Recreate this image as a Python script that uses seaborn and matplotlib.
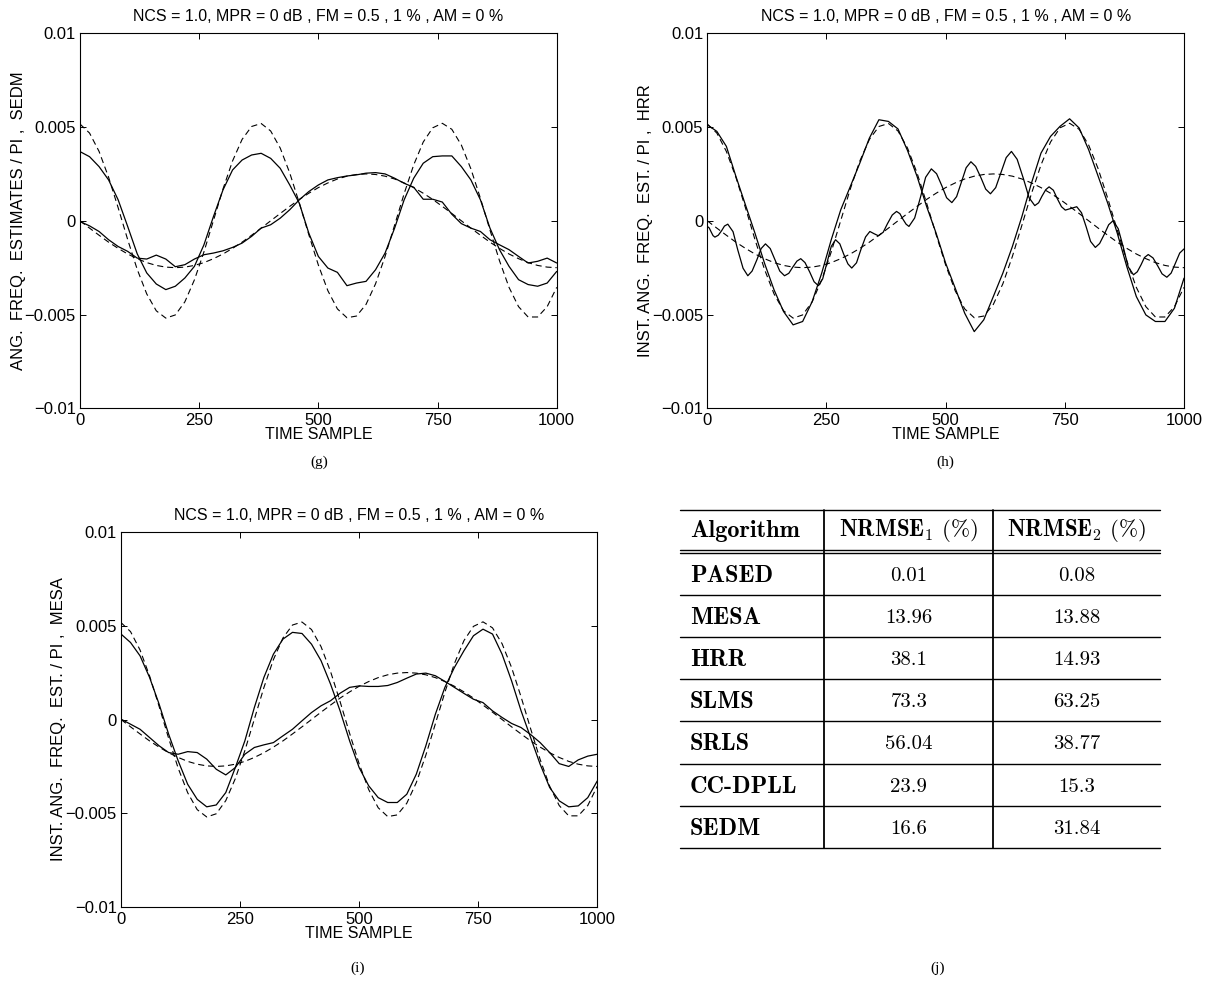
import numpy as np
import matplotlib
matplotlib.use("Agg")
import matplotlib.pyplot as plt
import seaborn as sns

# ---------------------------------------------------------------------------
# Data (frequency values in units of 1e-3, i.e. x 0.001 of normalised freq/pi)
# ---------------------------------------------------------------------------
T = list(range(0, 1001, 20))          # sample index of the uniformly read series

# true instantaneous frequency of the two components (dashed)
REF_FAST = [5.16, 4.68, 3.70, 2.32, 0.70, -1.00, -2.59, -3.90, -4.80, -5.19,
            -5.02, -4.32, -3.15, -1.66, 0.02, 1.70, 3.19, 4.34, 5.03, 5.19,
            4.79, 3.88, 2.55, 0.95, -0.74, -2.36, -3.73, -4.70, -5.17, -5.08,
            -4.46, -3.36, -1.90, -0.23, 1.45, 2.98, 4.20, 4.96, 5.20, 4.88,
            4.04, 2.77, 1.20, -0.49, -2.13, -3.55, -4.58, -5.13, -5.13, -4.58,
            -3.55]
REF_SLOW = [0.00, -0.39, -0.77, -1.14, -1.47, -1.77, -2.02, -2.23, -2.38, -2.47,
            -2.50, -2.47, -2.38, -2.23, -2.02, -1.77, -1.47, -1.14, -0.77, -0.39,
            0.00, 0.39, 0.77, 1.14, 1.47, 1.77, 2.02, 2.23, 2.38, 2.47,
            2.50, 2.47, 2.38, 2.23, 2.02, 1.77, 1.47, 1.14, 0.77, 0.39,
            0.00, -0.39, -0.77, -1.14, -1.47, -1.77, -2.02, -2.23, -2.38, -2.47,
            -2.50]

# SEDM estimates
SEDM_FAST = [3.69, 3.42, 2.89, 2.18, 1.12, -0.30, -1.76, -2.78, -3.37, -3.67,
             -3.49, -3.05, -2.43, -1.28, 0.23, 1.65, 2.71, 3.24, 3.51, 3.60,
             3.33, 2.80, 1.91, 0.94, -0.66, -1.90, -2.52, -2.75, -3.46, -3.32,
             -3.23, -2.61, -1.72, -0.39, 1.12, 2.27, 3.07, 3.42, 3.46, 3.46,
             2.89, 2.18, 1.12, -0.39, -1.54, -2.43, -3.14, -3.40, -3.49, -3.32,
             -2.70]
SEDM_SLOW = [-0.04, -0.27, -0.57, -1.01, -1.37, -1.63, -1.99, -2.04, -1.83, -2.04,
             -2.45, -2.34, -2.04, -1.81, -1.72, -1.60, -1.42, -1.19, -0.83, -0.39,
             -0.21, 0.14, 0.59, 1.12, 1.56, 1.91, 2.18, 2.30, 2.39, 2.45,
             2.54, 2.57, 2.50, 2.27, 2.00, 1.79, 1.15, 1.15, 1.00, 0.35,
             -0.15, -0.39, -0.57, -1.01, -1.28, -1.54, -1.90, -2.25, -2.16, -1.99,
             -2.25]

# HRR estimates
HRR_FAST = [5.12, 4.77, 3.97, 2.37, 0.85, -0.66, -2.26, -3.68, -4.84, -5.55,
            -5.37, -4.31, -2.79, -1.01, 0.59, 1.83, 3.08, 4.41, 5.39, 5.30,
            4.90, 3.75, 2.37, 0.77, -0.66, -2.26, -3.59, -4.93, -5.91, -5.28,
            -4.04, -2.79, -1.37, 0.23, 2.01, 3.61, 4.50, 5.04, 5.44, 4.95,
            3.79, 2.37, 0.94, -0.66, -2.44, -4.04, -5.02, -5.37, -5.37, -4.66,
            -3.06]
HRR_SLOW_T = [0, 4, 8, 12, 16, 23, 30, 36, 43, 54, 64, 75, 85, 94, 104, 113,
              122, 132, 142, 152, 162, 171, 179, 188, 196, 205, 215, 224,
              233, 242, 251, 260, 269, 278, 286, 295, 303, 313, 322, 332,
              341, 350, 359, 369, 378, 388, 397, 404, 410, 417, 423, 435,
              447, 458, 470, 481, 492, 502, 513, 523, 533, 543, 553, 563,
              574, 584, 594, 605, 616, 627, 638, 650, 663, 675, 687, 695,
              702, 710, 717, 726, 734, 743, 751, 763, 775, 785, 795, 804,
              814, 823, 833, 842, 851, 862, 873, 883, 894, 902, 910, 917,
              925, 935, 945, 954, 964, 973, 982, 991, 1000]
HRR_SLOW = [-0.30, -0.38, -0.59, -0.79, -0.87, -0.77, -0.53, -0.28, -0.18, -0.58,
            -1.56, -2.53, -2.93, -2.68, -2.08, -1.48, -1.23, -1.48, -2.08, -2.68,
            -2.93, -2.80, -2.48, -2.15, -2.02, -2.23, -2.74, -3.25, -3.46, -3.10,
            -2.24, -1.37, -1.01, -1.23, -1.77, -2.30, -2.52, -2.24, -1.55, -0.86,
            -0.57, -0.69, -0.80, -0.61, -0.15, 0.31, 0.50, 0.38, 0.10, -0.18,
            -0.30, 0.15, 1.24, 2.32, 2.77, 2.51, 1.87, 1.23, 0.97, 1.29,
            2.06, 2.83, 3.15, 2.90, 2.30, 1.69, 1.44, 1.77, 2.57, 3.37,
            3.70, 3.28, 2.26, 1.23, 0.81, 0.96, 1.31, 1.66, 1.81, 1.63,
            1.19, 0.75, 0.57, 0.66, 0.75, 0.43, -0.34, -1.10, -1.42, -1.21,
            -0.71, -0.21, 0.00, -0.42, -1.44, -2.46, -2.88, -2.72, -2.34, -1.96,
            -1.80, -1.98, -2.41, -2.83, -3.01, -2.79, -2.26, -1.72, -1.50]

# MESA estimates
MESA_FAST = [4.55, 4.10, 3.39, 2.24, 0.82, -0.78, -2.20, -3.45, -4.25, -4.65,
             -4.55, -3.89, -2.56, -1.14, 0.64, 2.24, 3.48, 4.28, 4.64, 4.58,
             4.01, 3.13, 1.88, 0.46, -1.14, -2.56, -3.53, -4.16, -4.42, -4.42,
             -3.98, -2.91, -1.40, 0.28, 1.71, 2.77, 3.66, 4.46, 4.81, 4.55,
             3.48, 2.06, 0.46, -0.96, -2.38, -3.62, -4.33, -4.65, -4.60, -4.16,
             -3.27]
MESA_SLOW = [0.02, -0.25, -0.52, -0.96, -1.40, -1.76, -1.85, -1.71, -1.76, -2.11,
             -2.65, -2.95, -2.56, -1.85, -1.49, -1.35, -1.23, -0.87, -0.52, -0.07,
             0.37, 0.73, 1.00, 1.40, 1.71, 1.79, 1.76, 1.76, 1.81, 1.97,
             2.20, 2.42, 2.47, 2.33, 2.03, 1.71, 1.39, 1.08, 0.90, 0.46,
             0.11, -0.21, -0.43, -0.80, -1.23, -1.76, -2.35, -2.50, -2.15, -1.95,
             -1.85]

SCALE = 1e-3

XTICKS = [0, 250, 500, 750, 1000]
XTICK_LABELS = ["0", "250", "500", "750", "1000"]
YTICKS = [-0.01, -0.005, 0.0, 0.005, 0.01]
YTICK_LABELS = ["\u22120.01", "\u22120.005", "0", "0.005", "0.01"]

TITLE = "NCS = 1.0, MPR = 0 dB , FM = 0.5 , 1 % , AM = 0 %"
XLABEL = "TIME SAMPLE"

# comparison table
ALGORITHMS = ["PASED", "MESA", "HRR", "SLMS", "SRLS", "CC-DPLL", "SEDM"]
NRMSE1 = ["0.01", "13.96", "38.1", "73.3", "56.04", "23.9", "16.6"]
NRMSE2 = ["0.08", "13.88", "14.93", "63.25", "38.77", "15.3", "31.84"]

# ---------------------------------------------------------------------------
sns.set_theme(style="ticks")
plt.rcParams["font.family"] = ["Liberation Sans", "DejaVu Sans"]
plt.rcParams["mathtext.fontset"] = "cm"
plt.rcParams["axes.unicode_minus"] = True
plt.rcParams["text.color"] = "black"
plt.rcParams["axes.labelcolor"] = "black"
plt.rcParams["xtick.color"] = "black"
plt.rcParams["ytick.color"] = "black"

W, H = 1205, 984
fig = plt.figure(figsize=(W / 100, H / 100), dpi=100)
fig.patch.set_facecolor("white")


def px_axes(left, top, right, bottom):
    return fig.add_axes([left / W, 1 - bottom / H, (right - left) / W, (bottom - top) / H])


panels = [
    dict(box=(80, 33.3, 556.7, 408.3),
         ylabel="ANG.  FREQ.  ESTIMATES / PI ,  SEDM",
         series=[(T, SEDM_FAST), (T, SEDM_SLOW)], lab_x=-0.113),
    dict(box=(707.3, 33.3, 1184, 408.3),
         ylabel="INST. ANG.  FREQ.  EST. / PI ,  HRR",
         series=[(T, HRR_FAST), (HRR_SLOW_T, HRR_SLOW)], lab_x=-0.114),
    dict(box=(121, 531.7, 597.3, 907.3),
         ylabel="INST. ANG.  FREQ.  EST. / PI ,  MESA",
         series=[(T, MESA_FAST), (T, MESA_SLOW)], lab_x=-0.116),
]

DASH = (0, (5.5, 3.5))

for p in panels:
    ax = px_axes(*p["box"])
    ax.set_facecolor("white")
    for ref in (REF_FAST, REF_SLOW):
        sns.lineplot(x=T, y=np.asarray(ref) * SCALE, ax=ax, color="black",
                     linewidth=0.8, linestyle=DASH, estimator=None, sort=False)
    for xs, ys in p["series"]:
        sns.lineplot(x=xs, y=np.asarray(ys) * SCALE, ax=ax, color="black",
                     linewidth=0.9, estimator=None, sort=False)
    ax.set_xlim(0, 1000)
    ax.set_ylim(-0.01, 0.01)
    ax.set_xticks(XTICKS)
    ax.set_xticklabels(XTICK_LABELS)
    ax.set_yticks(YTICKS)
    ax.set_yticklabels(YTICK_LABELS)
    ax.tick_params(direction="in", top=True, right=True, length=4, width=0.7,
                   labelsize=12, colors="black")
    ax.tick_params(axis="x", pad=3.5)
    ax.tick_params(axis="y", pad=3)
    for s in ax.spines.values():
        s.set_visible(True)
        s.set_linewidth(0.8)
        s.set_color("black")
    ax.grid(False)
    ax.set_title(TITLE, fontsize=11.5, pad=8.5, color="black")
    ax.set_xlabel(XLABEL, fontsize=11.5, labelpad=-1, color="black")
    ax.set_ylabel(p["ylabel"], fontsize=12, color="black")
    ax.yaxis.set_label_coords(p["lab_x"], 0.5)

# overlay in pixel coordinates for the table and the panel captions
ov = fig.add_axes([0, 0, 1, 1], facecolor="none")
ov.set_xlim(0, W)
ov.set_ylim(H, 0)
ov.axis("off")

tx0, tx1 = 680, 1160
col_lines = [824.3, 993.3]
top = 509.5
head_lo, head_hi = 549.5, 552.5
row_h = (848 - head_hi) / len(ALGORITHMS)

ov.plot([tx0, tx1], [top, top], color="black", lw=1.0)
ov.plot([tx0, tx1], [head_lo, head_lo], color="black", lw=1.0)
ov.plot([tx0, tx1], [head_hi, head_hi], color="black", lw=1.0)
for i in range(len(ALGORITHMS)):
    yb = head_hi + row_h * (i + 1)
    ov.plot([tx0, tx1], [yb, yb], color="black", lw=1.0)
for cx in col_lines:
    ov.plot([cx, cx], [top, 848], color="black", lw=1.3)

BOLD_SIZE = 17.5
hy = (top + head_lo) / 2 + 1
ov.text(690, hy, "Algorithm", fontfamily="cmb10", fontsize=BOLD_SIZE, va="center", ha="left")
c2 = (col_lines[0] + col_lines[1]) / 2
c3 = (col_lines[1] + tx1) / 2
ov.text(c2, hy, r"$\mathbf{NRMSE_1}\ \mathrm{(\%)}$", fontsize=16.5, va="center", ha="center")
ov.text(c3, hy, r"$\mathbf{NRMSE_2}\ \mathrm{(\%)}$", fontsize=16.5, va="center", ha="center")
for i, (name, a, b) in enumerate(zip(ALGORITHMS, NRMSE1, NRMSE2)):
    yc = head_hi + row_h * (i + 0.5) + 2
    ov.text(690, yc, name, fontfamily="cmb10", fontsize=BOLD_SIZE, va="center", ha="left")
    ov.text(c2, yc, a, fontfamily="cmr10", fontsize=15, va="center", ha="center")
    ov.text(c3, yc, b, fontfamily="cmr10", fontsize=15, va="center", ha="center")

for lab, x, y in [("(g)", 319, 462), ("(h)", 945, 462), ("(i)", 358, 968), ("(j)", 938, 968)]:
    ov.text(x, y, lab, fontfamily=["Liberation Serif", "DejaVu Serif"], fontsize=11,
            ha="center", va="center")

fig.savefig("out.png", dpi=100, facecolor="white")
